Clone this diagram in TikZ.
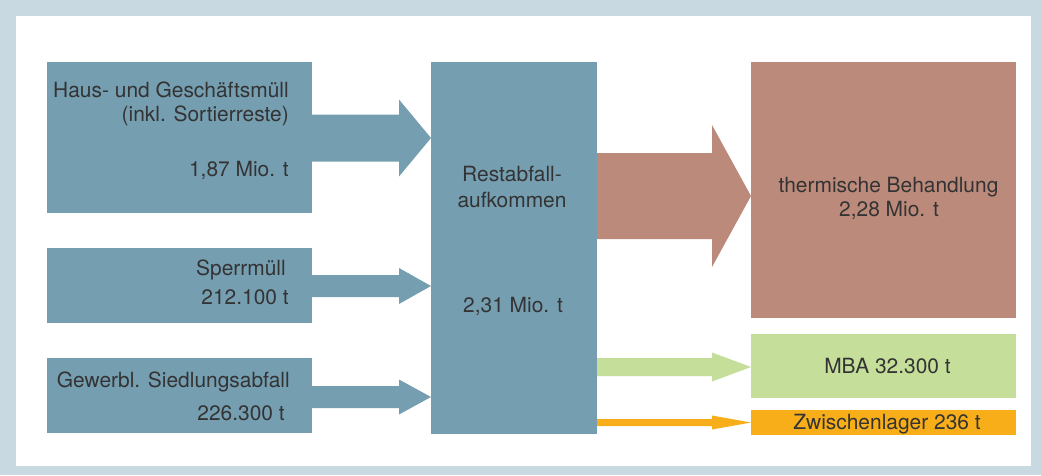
\documentclass[tikz,border=0pt]{standalone}
\usepackage{fontspec}
\setmainfont{TeX Gyre Heros}
\usetikzlibrary{calc,fit}

\definecolor{framec}{HTML}{C9D9E1}
\definecolor{slate}{HTML}{769EB1}
\definecolor{clay}{HTML}{BB8A7A}
\definecolor{leaf}{HTML}{C5DF9B}
\definecolor{amber}{HTML}{F7AE19}
\definecolor{ink}{HTML}{333333}

% flow arrow: start coordinate, tip coordinate, shaft half-width,
% head half-width, head length, fill colour
\newcommand\flowarrow[6]{%
  \fill[#6] ($(#1)+(0,-#3)$) -- ($(#2)+(-#5,-#3)$) -- ($(#2)+(-#5,-#4)$)
    -- (#2) -- ($(#2)+(-#5,#4)$) -- ($(#2)+(-#5,#3)$) -- ($(#1)+(0,#3)$) -- cycle;}

\begin{document}
\begin{tikzpicture}[x=0.75pt,y=-0.75pt,
  box/.style={inner sep=0pt,outer sep=0pt,rectangle},
  txt/.style={inner sep=0pt,text=ink,font=\fontsize{15.7pt}{18pt}\selectfont}]

% frame
\fill[framec] (0,0) rectangle (1041,475);
\fill[white] (16,16) rectangle (1031,466);
\useasboundingbox (0,0) rectangle (1041,475);

% boxes
\node[box,fill=slate,fit={(47,62) (312,213)}] (haus) {};
\node[box,fill=slate,fit={(47,248) (312,323)}] (sperr) {};
\node[box,fill=slate,fit={(47,358) (312,433)}] (gew) {};
\node[box,fill=slate,fit={(431,62) (597,434)}] (rest) {};
\node[box,fill=clay,fit={(751,62) (1016,318)}] (therm) {};
\node[box,fill=leaf,fit={(751,334) (1016,398)}] (mba) {};
\node[box,fill=amber,fit={(751,410) (1016,435)}] (zwl) {};

% arrow end points
\coordinate (a1s) at (haus.east |- 0,138);
\coordinate (a1e) at (rest.west |- 0,138);
\coordinate (a2s) at (sperr.east |- 0,286);
\coordinate (a2e) at (rest.west |- 0,286);
\coordinate (a3s) at (gew.east |- 0,397);
\coordinate (a3e) at (rest.west |- 0,397);
\coordinate (a4s) at (rest.east |- 0,196);
\coordinate (a4e) at (therm.west |- 0,196);
\coordinate (a5s) at (rest.east |- 0,367);
\coordinate (a5e) at (mba.west |- 0,367);
\coordinate (a6s) at (rest.east |- 0,422.5);
\coordinate (a6e) at (zwl.west |- 0,422.5);

\flowarrow{a1s}{a1e}{23.5}{38.5}{32}{slate}
\flowarrow{a2s}{a2e}{11}{18}{32}{slate}
\flowarrow{a3s}{a3e}{11}{17.5}{32}{slate}
\flowarrow{a4s}{a4e}{43}{71}{39}{clay}
\flowarrow{a5s}{a5e}{9}{14.5}{39}{leaf}
\flowarrow{a6s}{a6e}{3.5}{7}{39}{amber}

% labels
\node[txt,anchor=base east] (t1) at (289,97) {Haus- und Geschäftsmüll};
\node[txt,anchor=base east] (t2) at (289,121) {(inkl. Sortierreste)};
\node[txt,anchor=base east] (t3) at (289,176) {1,87 Mio. t};
\node[txt,anchor=base east] (t4) at (286,275) {Sperrmüll};
\node[txt,anchor=base east] (t5) at (289,304) {212.100 t};
\node[txt,anchor=base east] (t6) at (290,387) {Gewerbl. Siedlungsabfall};
\node[txt,anchor=base east] (t7) at (285,420) {226.300 t};
\node[txt,anchor=base] (t8) at (512,181) {Restabfall-};
\node[txt,anchor=base] (t9) at (512,207) {aufkommen};
\node[txt,anchor=base] (t10) at (513,312) {2,31 Mio. t};
\node[txt,anchor=base] (t11) at (888.5,192) {thermische Behandlung};
\node[txt,anchor=base] (t12) at (889,216) {2,28 Mio. t};
\node[txt,anchor=base] (t13) at (887.5,373) {MBA 32.300 t};
\node[txt,anchor=base] (t14) at (887,429) {Zwischenlager 236 t};
\end{tikzpicture}
\end{document}
